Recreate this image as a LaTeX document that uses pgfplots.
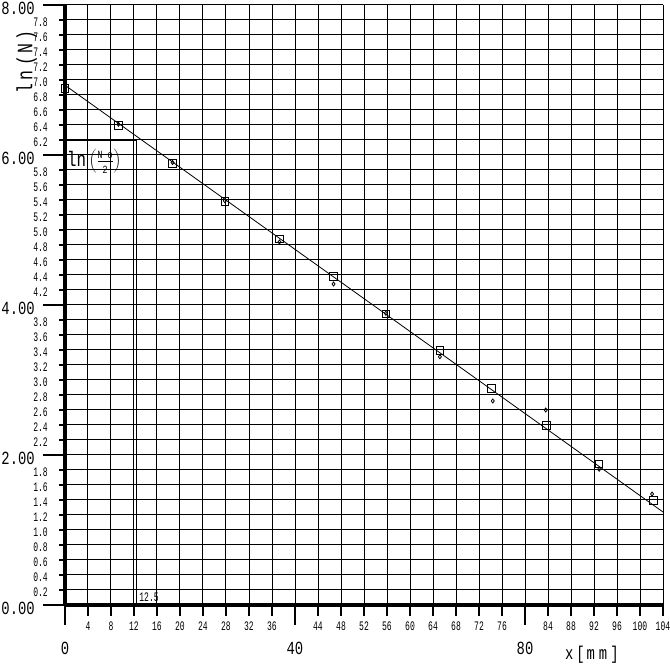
\documentclass[border=0pt]{standalone}
\usepackage{fontspec}
\usepackage{pgfplots}
\pgfplotsset{compat=1.18}
\newfontfamily\pf[FakeStretch=0.75]{Liberation Mono}
\newfontfamily\pfn[FakeStretch=0.62]{Liberation Mono}
\newcommand\smallf{\pfn\fontsize{13}{13}\selectfont}
\newcommand\bigf{\pf\fontsize{18.5}{18.5}\selectfont}
\begin{document}
\begin{tikzpicture}
\path[use as bounding box] (-65pt,-61pt) rectangle (605pt,605pt);
\begin{axis}[
  at={(0pt,0pt)}, anchor=south west,
  scale only axis, width=598pt, height=600pt,
  xmin=0, xmax=104, ymin=0, ymax=8,
  axis lines*=left,
  axis line style={line width=3.5pt},
  clip=false,
  xtick={0,4,8,12,16,20,24,28,32,36,40,44,48,52,56,60,64,68,72,76,80,84,88,92,96,100,104},
  xticklabels={,4,8,12,16,20,24,28,32,36,,44,48,52,56,60,64,68,72,76,,84,88,92,96,100,104},
  ytick={0,0.2,0.4,0.6,0.8,1,1.2,1.4,1.6,1.8,2,2.2,2.4,2.6,2.8,3,3.2,3.4,3.6,3.8,4,4.2,4.4,4.6,4.8,5,5.2,5.4,5.6,5.8,6,6.2,6.4,6.6,6.8,7,7.2,7.4,7.6,7.8,8},
  yticklabels={,0.2,0.4,0.6,0.8,1.0,1.2,1.4,1.6,1.8,,2.2,2.4,2.6,2.8,3.0,3.2,3.4,3.6,3.8,,4.2,4.4,4.6,4.8,5.0,5.2,5.4,5.6,5.8,,6.2,6.4,6.6,6.8,7.0,7.2,7.4,7.6,7.8,},
  tick align=outside,
  major tick length=6pt,
  xtick style={line width=2.7pt, black, /pgfplots/major tick length=11pt},
  ytick style={line width=2.7pt, black},
  grid=major,
  grid style={line width=1pt, black},
  xticklabel style={font=\smallf, inner sep=0pt, anchor=center, yshift=-15pt},
  yticklabel style={font=\smallf, inner sep=0pt, anchor=east, xshift=-11pt, yshift=-2pt},
  extra x ticks={0,40,80},
  extra x tick labels={0,40,80},
  extra x tick style={grid=none,
    xtick style={/pgfplots/major tick length=20pt},
    xticklabel style={font=\bigf, anchor=center, yshift=-22pt}},
  extra y ticks={0,2,4,6,8},
  extra y tick labels={0.00,2.00,4.00,6.00,8.00},
  extra y tick style={grid=none,
    ytick style={/pgfplots/major tick length=22pt},
    yticklabel style={font=\bigf, anchor=east, xshift=-13pt, yshift=-1pt}},
  xlabel={x\hspace{3pt}[\hspace{2pt}m\hspace{4pt}m\hspace{3pt}]},
  xlabel style={font=\bigf, at={(axis description cs:0.881,0)}, anchor=center, yshift=-50pt},
  ylabel={l\hspace{3pt}n\hspace{5pt}(\hspace{3pt}N\hspace{3pt})},
  ylabel style={font=\pf\fontsize{22}{22}\selectfont, at={(axis description cs:-0.064,0.905)}, anchor=center},
]
% fitted line
\addplot[black, line width=0.8pt] coordinates {(0,6.93) (104,1.24)};
% half-value construction
\addplot[black, line width=2pt] coordinates {(0,6.2) (12.5,6.2)};
\addplot[black, line width=1pt] coordinates {(12.5,6.2) (12.5,0)};
% squares
\addplot[only marks, mark=square, mark size=3.8pt, mark options={line width=1pt, black}] coordinates {
(0,6.89) (9.3,6.39) (18.7,5.89) (27.8,5.38) (37.3,4.88) (46.7,4.38)
(55.8,3.88) (65.2,3.39) (74.2,2.89) (83.7,2.39) (92.9,1.88) (102.3,1.39)};
% measured points
\addplot[only marks, mark=diamond, mark size=2pt, mark options={line width=0.8pt, black}] coordinates {
(0,6.90) (9.3,6.41) (18.7,5.90) (27.8,5.39) (37.3,4.84) (46.7,4.28)
(55.8,3.89) (65.2,3.31) (74.4,2.72) (83.6,2.60) (92.9,1.81) (102.1,1.48)};
\node[anchor=west, inner sep=0pt, font=\pf\fontsize{21}{21}\selectfont] at (axis cs:0.35,5.91) {ln\hspace{3pt}$\left(\frac{\hbox{\pf\fontsize{11}{11}\selectfont N o}}{\hbox{\pf\fontsize{11}{11}\selectfont 2}}\right)$};
\node[anchor=west, inner sep=0pt, font=\smallf] at (axis cs:12.9,0.11) {12.5};
\end{axis}
\end{tikzpicture}
\end{document}
